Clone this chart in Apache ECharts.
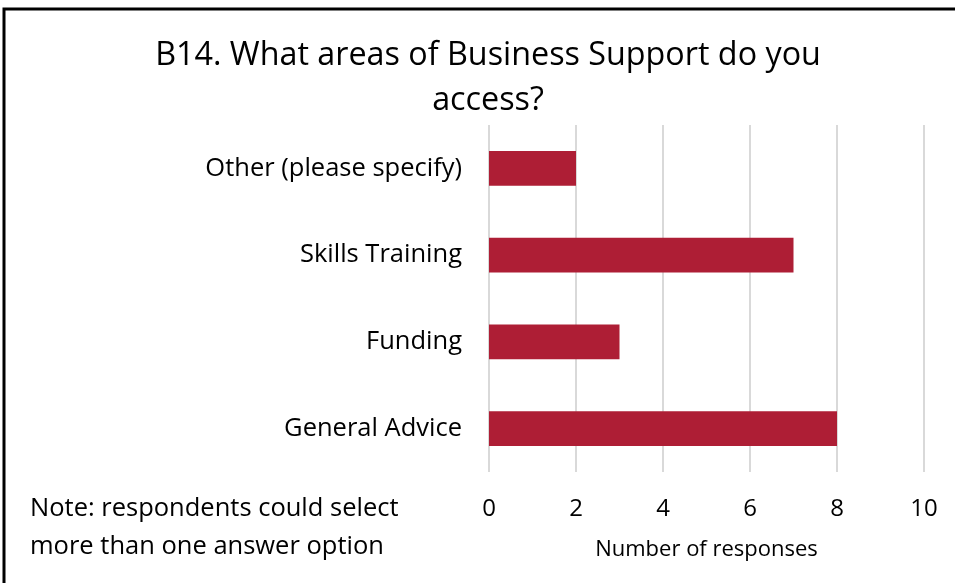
<!DOCTYPE html>
<html>
<head>
<meta charset="utf-8">
<script src="https://cdn.jsdelivr.net/npm/echarts@6/dist/echarts.min.js"></script>
<style>
  html, body { margin: 0; padding: 0; background: #fff; }
  #chart { width: 955px; height: 583px; }
</style>
</head>
<body>
<div id="chart"></div>
<script>
// Survey question B14: business support areas accessed
const categories = ['General Advice', 'Funding', 'Skills Training', 'Other (please specify)'];
const responses = [8, 3, 7, 2];
const axisTicks = [0, 2, 4, 6, 8, 10];

const titleLines = ['B14. What areas of Business Support do you', 'access?'];
const noteLines = ['Note: respondents could select', 'more than one answer option'];
const axisName = 'Number of responses';

const FONT = 'Open Sans';
const chart = echarts.init(document.getElementById('chart'));

chart.setOption({
  animation: false,
  backgroundColor: '#ffffff',
  textStyle: { fontFamily: FONT },
  grid: { left: 489, right: 31, top: 125, bottom: 111, containLabel: false },
  xAxis: {
    type: 'value',
    min: axisTicks[0],
    max: axisTicks[axisTicks.length - 1],
    interval: 2,
    axisLine: { show: false },
    axisTick: { show: false },
    axisLabel: { fontFamily: FONT, fontSize: 24, color: '#000', margin: 25 },
    splitLine: { show: true, lineStyle: { color: '#d9d9d9', width: 2 } },
    name: axisName,
    nameLocation: 'middle',
    nameGap: 67,
    nameTextStyle: { fontFamily: FONT, fontSize: 22, color: '#000' }
  },
  yAxis: {
    type: 'category',
    data: categories,
    axisLine: { show: false },
    axisTick: { show: false },
    axisLabel: { fontFamily: FONT, fontSize: 25.5, color: '#000', margin: 27 }
  },
  series: [{
    type: 'bar',
    data: responses,
    barWidth: '40%',
    itemStyle: { color: '#ae1e35' }
  }],
  graphic: [
    {
      type: 'rect',
      shape: { x: 4, y: 9, width: 1000, height: 1000 },
      style: { fill: 'none', stroke: '#000', lineWidth: 3 },
      silent: true
    },
    {
      type: 'text',
      x: 488,
      y: 33,
      style: {
        text: titleLines.join('\n'),
        font: '32.3px ' + FONT,
        fill: '#000',
        textAlign: 'center',
        lineHeight: 45
      }
    },
    {
      type: 'text',
      left: 30,
      top: 490,
      style: {
        text: noteLines.join('\n'),
        font: '25.5px ' + FONT,
        fill: '#000',
        lineHeight: 38
      }
    }
  ]
});
</script>
</body>
</html>
